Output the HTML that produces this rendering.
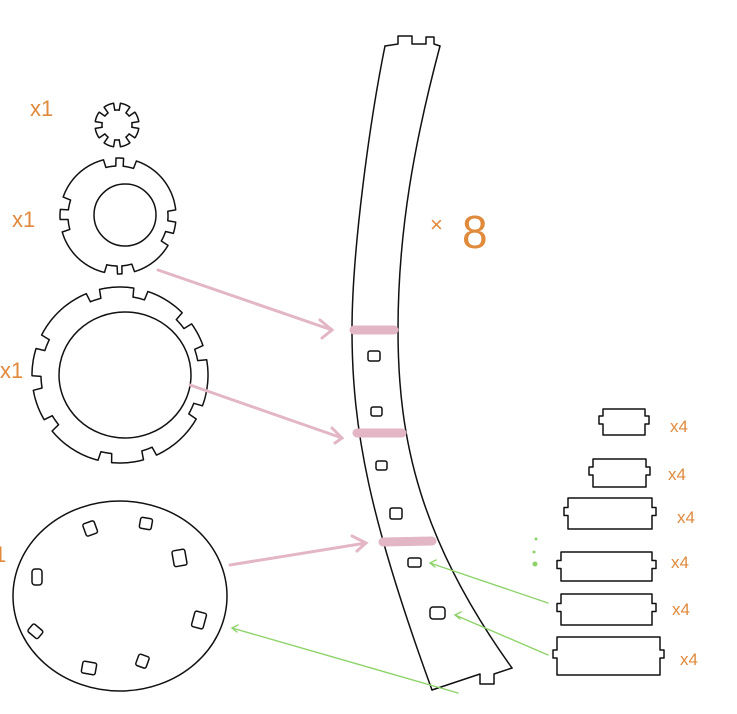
<!DOCTYPE html>
<html><head><meta charset="utf-8"><style>
html,body{margin:0;padding:0;background:#fff;}
svg{display:block}
text{font-family:"Liberation Sans",sans-serif;fill:#e08a3c;}
</style></head><body>
<svg id="s" width="737" height="714" viewBox="0 0 737 714" xmlns="http://www.w3.org/2000/svg">
<g fill="none" stroke="#111" stroke-width="1.5" stroke-linejoin="round" stroke-linecap="round">
<!-- strip -->
<path d="M385,46 C370,120 352,250 352,330 C352,430 370,520 432,690"/>
<path d="M440,46 C415,140 398,230 398,330 C398,440 420,540 512,668"/>
<path d="M385,46 L398,44 L398,36 L412,36 L412,44 L426,44 L426,37 L434,37 L434,44 L440,46"/>
<path d="M432,690 L480,674 L480,684 L494,684 L494,674 L512,668"/>
<!-- holes -->
<rect x="368" y="351" width="12" height="10" rx="2"/>
<rect x="371" y="407" width="11" height="9" rx="2"/>
<rect x="376" y="461" width="11" height="9" rx="2"/>
<rect x="390" y="508" width="12" height="11" rx="2"/>
<rect x="408" y="558" width="13" height="9" rx="2"/>
<rect x="430" y="607" width="15" height="12" rx="3"/>
<!-- disk -->
<ellipse cx="120" cy="596" rx="107" ry="95"/>
<rect x="84" y="522" width="12" height="13" rx="2" transform="rotate(-20 90 528)"/>
<rect x="140" y="518" width="12" height="11" rx="2" transform="rotate(10 146 523)"/>
<rect x="173" y="550" width="13" height="16" rx="2" transform="rotate(-10 179 558)"/>
<rect x="193" y="612" width="12" height="16" rx="2" transform="rotate(15 199 620)"/>
<rect x="137" y="655" width="11" height="12" rx="2" transform="rotate(20 142 661)"/>
<rect x="82" y="662" width="14" height="12" rx="2" transform="rotate(10 89 668)"/>
<rect x="29" y="626" width="13" height="10" rx="2" transform="rotate(40 35 631)"/>
<rect x="32" y="569" width="10" height="16" rx="3"/>
<!-- rectangles right -->
<g id="rects"></g>
<circle cx="125" cy="215" rx="32" r="31"/>
<ellipse cx="125" cy="375" rx="66" ry="63"/>
<g id="gears"></g>
</g>
<!-- pink -->
<g stroke="#e3b6c5" stroke-linecap="round" fill="none">
<path d="M354,330 L394,330" stroke-width="9"/>
<path d="M357,433 L402,433" stroke-width="9"/>
<path d="M383,542 L432,541" stroke-width="9"/>
<g stroke-width="3">
<path d="M158,270 L332,330 M320,320 L332,330 L322,338"/>
<path d="M190,385 L342,438 M332,428 L342,438 L335,443"/>
<path d="M230,565 L366,543 M352,536 L366,543 L357,551"/>
</g>
</g>
<!-- green -->
<g stroke="#8ed36a" stroke-width="1.4" fill="none" stroke-linecap="round">
<path d="M548,603 L430,563 M436,560 L430,563 L435,567"/>
<path d="M548,655 L455,615 M461,612 L455,615 L460,619"/>
<path d="M458,693 L232,628 M238,625 L232,628 L237,632"/>
</g>
<g fill="#8ed36a"><circle cx="536" cy="539" r="1.5"/><circle cx="534" cy="552" r="1.5"/><circle cx="535" cy="564" r="2.5"/></g>
<!-- labels -->
<text x="30" y="116" font-size="22">x1</text>
<text x="12" y="227" font-size="22">x1</text>
<text x="0" y="378" font-size="22">x1</text>
<text x="-6" y="562" font-size="22">1</text>
<text x="430" y="232" font-size="22">×</text>
<text x="462" y="248" font-size="46">8</text>
<text x="670" y="432" font-size="17">x4</text>
<text x="668" y="480" font-size="17">x4</text>
<text x="677" y="523" font-size="17">x4</text>
<text x="671" y="568" font-size="17">x4</text>
<text x="672" y="615" font-size="17">x4</text>
<text x="680" y="665" font-size="17">x4</text>
</svg>
<script>
function gear(cx,cy,r,d,angs,w){
  var pts=[];var N=720;
  for(var i=0;i<=N;i++){
    var a=i/N*2*Math.PI;var rr=r;
    for(var j=0;j<angs.length;j++){
      var t=angs[j]*Math.PI/180;var diff=Math.atan2(Math.sin(a-t),Math.cos(a-t));
      if(Math.abs(diff)<w*Math.PI/360) rr=r-d;
    }
    pts.push((cx+rr*Math.cos(a)).toFixed(1)+","+(cy+rr*Math.sin(a)).toFixed(1));
  }
  return '<path d="M'+pts.join(" L")+'"/>';
}
var g=document.getElementById("gears");
var h="";
h+=gear(117,125,22,7,[0,45,90,135,180,225,270,315],18);
h+=gear(118,216,58,8,[-98,-78,80,97,170,193,0,24],12);
h+=gear(120,375,88,9,[-108,-76,-158,175,-15,25,70,100,145,-40],9);
g.innerHTML=h;
function rct(x,y,w,hh){
  var m=y+hh/2;
  return '<path d="M'+(x+4)+','+y+' L'+(x+w-4)+','+y+' L'+(x+w-4)+','+(m-6)+' L'+(x+w)+','+(m-6)+' L'+(x+w)+','+(m+2)+' L'+(x+w-4)+','+(m+2)+' L'+(x+w-4)+','+(y+hh)+' L'+(x+4)+','+(y+hh)+' L'+(x+4)+','+(m+2)+' L'+x+','+(m+2)+' L'+x+','+(m-6)+' L'+(x+4)+','+(m-6)+' Z"/>';
}
var r="";
r+=rct(599,409,50,26);
r+=rct(589,459,61,28);
r+=rct(564,498,92,31);
r+=rct(557,552,99,29);
r+=rct(557,594,99,31);
r+=rct(553,637,111,38);
document.getElementById("rects").innerHTML=r;
</script>
</body></html>
